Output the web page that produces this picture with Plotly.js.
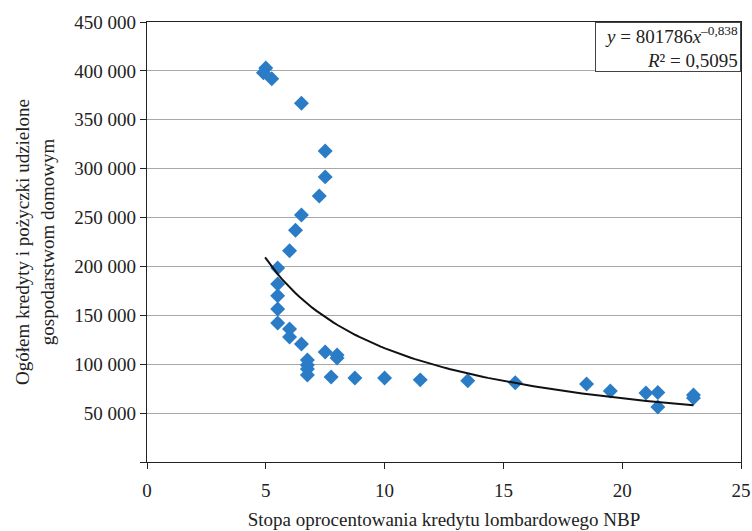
<!DOCTYPE html>
<html>
<head>
<meta charset="utf-8">
<script src="https://cdn.plot.ly/plotly-3.0.1.min.js"></script>
<style>html,body{margin:0;padding:0;background:#fff;}#chart{width:752px;height:531px;}</style>
</head>
<body>
<div id="chart"></div>
<script>
// Scatter data: lombard rate (x) vs household loans (y)
const rate = [5, 4.9, 5.25, 6.5, 7.5, 7.5, 7.25, 6.5, 6.25, 6, 5.5, 5.5, 5.5, 5.5, 5.5, 6, 6, 6.5, 6.75, 6.75, 6.75, 6.75, 7.5, 8, 8, 7.75, 8.75, 10, 11.5, 13.5, 15.5, 18.5, 19.5, 21, 21.5, 21.5, 23, 23];
const loans = [403000, 398000, 392000, 367000, 318000, 291600, 272000, 252700, 237000, 216000, 198500, 182000, 170000, 156500, 142200, 136000, 127900, 120700, 104300, 99200, 95100, 89000, 112500, 109500, 106400, 87000, 86000, 86000, 84000, 83000, 81000, 79800, 72600, 70600, 71000, 56300, 68500, 65500];

// Power trendline as printed on the chart: y = a * x^b
const trendA = 801786;
const trendB = -0.838;
const trendRange = [4.97, 23];

const yTickVals = [0, 50000, 100000, 150000, 200000, 250000, 300000, 350000, 400000, 450000];
const yTickText = [" ", "50 000", "100 000", "150 000", "200 000", "250 000", "300 000", "350 000", "400 000", "450 000"];
const xTickVals = [0, 5, 10, 15, 20, 25];

const trendX = [];
const trendY = [];
for (let i = 0; i <= 100; i++) {
  const x = trendRange[0] + (trendRange[1] - trendRange[0]) * i / 100;
  trendX.push(x);
  trendY.push(trendA * Math.pow(x, trendB));
}

const FONT = "Liberation Serif, Times New Roman, serif";

const data = [
  {
    x: rate, y: loans, type: "scatter", mode: "markers",
    marker: {symbol: "diamond", size: 11.5, color: "#2a7cc6", line: {width: 0}},
    showlegend: false, hoverinfo: "x+y"
  },
  {
    x: trendX, y: trendY, type: "scatter", mode: "lines",
    line: {color: "#111", width: 2},
    showlegend: false, hoverinfo: "skip"
  }
];

const layout = {
  width: 752, height: 531,
  margin: {l: 147, r: 11, t: 22, b: 69, pad: 0},
  paper_bgcolor: "#fff", plot_bgcolor: "#fff",
  font: {family: FONT, size: 19, color: "#222"},
  xaxis: {
    range: [0, 25], tickvals: xTickVals, ticks: "outside", ticklen: 6, tickcolor: "#222",
    ticklabelstandoff: 5,
    showline: true, linecolor: "#222", linewidth: 1.3, mirror: true,
    showgrid: false, zeroline: false,
    tickfont: {family: FONT, size: 19, color: "#222"},
    title: {text: "Stopa oprocentowania kredytu lombardowego NBP", font: {family: FONT, size: 19, color: "#222"}, standoff: 12}
  },
  yaxis: {
    range: [0, 450000], tickvals: yTickVals, ticktext: yTickText, ticks: "outside", ticklen: 6, tickcolor: "#222",
    showline: true, linecolor: "#222", linewidth: 1.3, mirror: true,
    showgrid: true, gridcolor: "#a8a8a8", gridwidth: 1.2, zeroline: false,
    tickfont: {family: FONT, size: 19, color: "#222"},
    title: {text: "Ogółem kredyty i pożyczki udzielone<br>gospodarstwom domowym", font: {family: FONT, size: 19, color: "#222"}, standoff: 14}
  },
  annotations: [
    {
      xref: "paper", yref: "paper", x: 1, y: 1, xanchor: "right", yanchor: "top",
      text: "<i>y</i> = 801786<i>x</i><sup>–0,838</sup><br><i>R</i>² = 0,5095",
      align: "right", showarrow: false,
      font: {family: FONT, size: 19, color: "#222"},
      bgcolor: "#fff", bordercolor: "#444", borderwidth: 1, borderpad: 2,
      width: 140, height: 44
    }
  ]
};

Plotly.newPlot("chart", data, layout, {displayModeBar: false, staticPlot: true});
</script>
</body>
</html>
